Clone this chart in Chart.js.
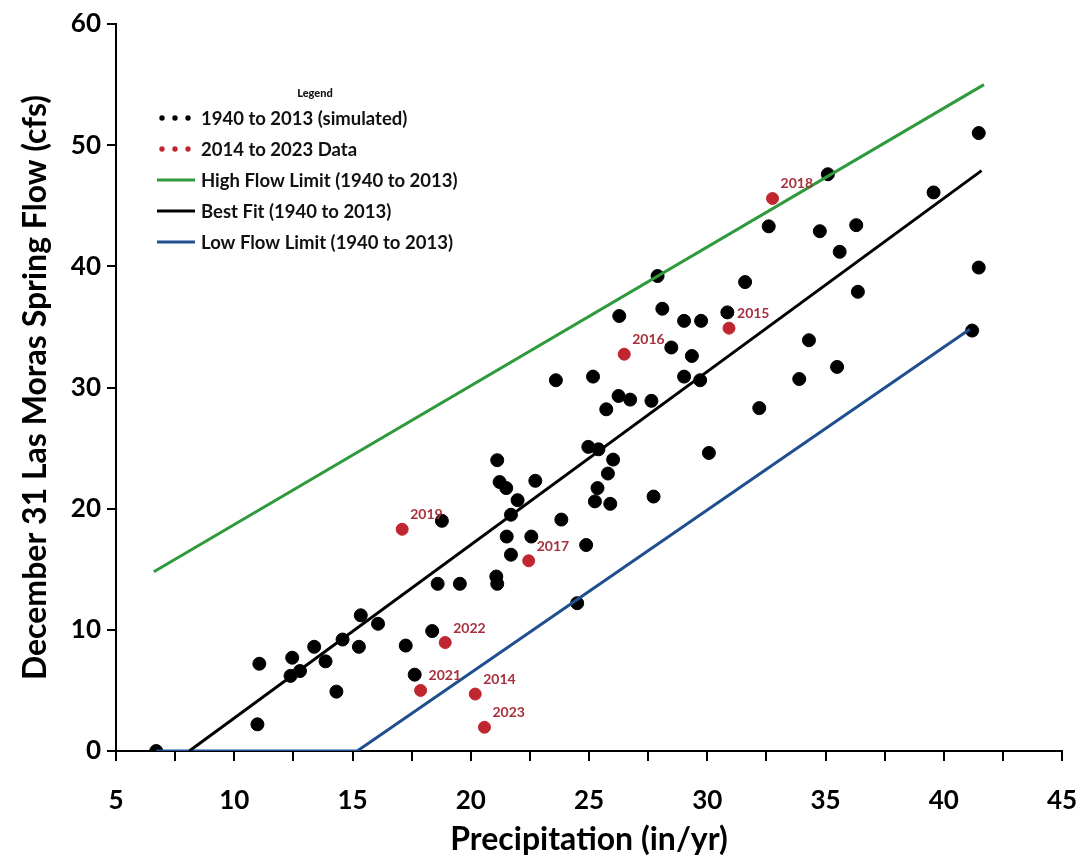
<!DOCTYPE html>
<html>
<head>
<meta charset="utf-8">
<script src="https://cdn.jsdelivr.net/npm/chart.js@4.4.1/dist/chart.umd.min.js"></script>
<style>
  html, body { margin: 0; padding: 0; background: #ffffff; }
  #wrap { width: 1085px; height: 857px; position: relative; }
</style>
</head>
<body>
<div id="wrap"><canvas id="c" width="1085" height="857"></canvas></div>
<script>
// ---- Data ----
const simX = [6.7, 11.06, 10.98, 12.45, 12.38, 12.78, 13.38, 13.86, 14.58, 14.32,
  15.35, 15.27, 16.08, 17.25, 17.63, 18.37, 18.6, 19.54, 21.08, 21.12,
  21.7, 21.12, 21.22, 21.5, 22.73, 21.98, 21.7, 18.78, 21.52, 22.56,
  23.83, 24.88, 24.97, 25.4, 26.02, 25.8, 25.36, 25.25, 25.9, 27.73,
  24.5, 27.9, 31.6, 26.28, 28.1, 29.02, 29.74, 30.85, 36.37, 28.48,
  29.35, 34.3, 35.49, 33.89, 23.6, 25.17, 29.02, 29.7, 26.25, 26.74,
  27.64, 25.73, 32.2, 30.07, 41.48, 35.1, 39.57, 32.6, 34.76, 36.3,
  35.6, 41.48, 41.2];
const simY = [0, 7.2, 2.2, 7.7, 6.2, 6.6, 8.6, 7.4, 9.2, 4.9,
  11.2, 8.6, 10.5, 8.7, 6.3, 9.9, 13.8, 13.8, 14.4, 13.8,
  16.2, 24.0, 22.2, 21.7, 22.3, 20.7, 19.5, 19.0, 17.7, 17.7,
  19.1, 17.0, 25.1, 24.9, 24.05, 22.9, 21.7, 20.6, 20.4, 21.0,
  12.2, 39.2, 38.7, 35.9, 36.5, 35.5, 35.5, 36.2, 37.9, 33.3,
  32.6, 33.9, 31.7, 30.7, 30.6, 30.9, 30.9, 30.6, 29.3, 29.0,
  28.9, 28.2, 28.3, 24.6, 51.0, 47.6, 46.1, 43.3, 42.9, 43.4,
  41.2, 39.9, 34.7];

const obsYears = ['2014', '2015', '2016', '2017', '2018', '2019', '2021', '2022', '2023'];
const obsX = [20.19, 30.92, 26.49, 22.45, 32.76, 17.1, 17.88, 18.92, 20.58];
const obsY = [4.7, 34.9, 32.75, 15.7, 45.6, 18.3, 5.0, 8.95, 1.96];

const highX = [6.6, 41.7];
const highY = [14.8, 55.0];
const fitX = [8.1, 41.6];
const fitY = [0, 47.9];
const lowX = [6.7, 15.2, 41.1];
const lowY = [0, 0, 34.8];

const xTickLabels = [5, 10, 15, 20, 25, 30, 35, 40, 45];
const yTickLabels = [0, 10, 20, 30, 40, 50, 60];

const seriesNames = ['1940 to 2013 (simulated)', '2014 to 2023 Data',
  'High Flow Limit (1940 to 2013)', 'Best Fit (1940 to 2013)', 'Low Flow Limit (1940 to 2013)'];

const toPts = (xs, ys) => xs.map((x, i) => ({ x: x, y: ys[i] }));

const FONT = 'Lato, "Open Sans", "DejaVu Sans", sans-serif';
const GREEN = '#2f9a3c';
const BLUE = '#1f4f8f';
const RED = '#c0262f';
const LABELRED = '#a8303c';

// ---- custom legend + point labels ----
const decorPlugin = {
  id: 'decor',
  afterDatasetsDraw(chart) {
    const ctx = chart.ctx;
    ctx.save();
    // red point labels
    const meta = chart.getDatasetMeta(1);
    ctx.fillStyle = LABELRED;
    ctx.font = 'bold 14px ' + FONT;
    ctx.textAlign = 'left';
    ctx.textBaseline = 'alphabetic';
    meta.data.forEach((p, i) => {
      ctx.fillText(obsYears[i], p.x + 8, p.y - 10);
    });

    // legend
    ctx.fillStyle = '#111';
    ctx.font = '900 11px ' + FONT;
    ctx.textAlign = 'center';
    ctx.textBaseline = 'middle';
    ctx.fillText('Legend', 315, 93);

    const order = [3, 1, 0, 2, 4]; // dataset indices in legend order
    const rowY = [118, 149, 180, 211, 242];
    ctx.font = 'bold 18.5px ' + FONT;
    ctx.textAlign = 'left';
    order.forEach((di, k) => {
      const ds = chart.data.datasets[di];
      const y = rowY[k];
      if (ds.type === 'scatter') {
        ctx.fillStyle = ds.backgroundColor;
        [162, 175, 188].forEach(cx => {
          ctx.beginPath(); ctx.arc(cx, y, 2.7, 0, Math.PI * 2); ctx.fill();
        });
      } else {
        ctx.strokeStyle = ds.borderColor;
        ctx.lineWidth = 3;
        ctx.beginPath(); ctx.moveTo(157, y); ctx.lineTo(195, y); ctx.stroke();
      }
      ctx.fillStyle = '#111';
      ctx.fillText(ds.label, 201, y + 1);
    });
    ctx.restore();
  }
};

new Chart(document.getElementById('c'), {
  data: {
    datasets: [
      { type: 'line', label: seriesNames[2], data: toPts(highX, highY), borderColor: GREEN, borderWidth: 3, pointRadius: 0, fill: false, order: 0 },
      { type: 'scatter', label: seriesNames[1], data: toPts(obsX, obsY), backgroundColor: RED, borderColor: RED, pointRadius: 6, order: 1 },
      { type: 'line', label: seriesNames[3], data: toPts(fitX, fitY), borderColor: '#000000', borderWidth: 3, pointRadius: 0, fill: false, order: 0 },
      { type: 'scatter', label: seriesNames[0], data: toPts(simX, simY), backgroundColor: '#000000', borderColor: '#000000', pointRadius: 6.5, order: 2 },
      { type: 'line', label: seriesNames[4], data: toPts(lowX, lowY), borderColor: BLUE, borderWidth: 3, pointRadius: 0, fill: false, order: 0 }
    ]
  },
  options: {
    responsive: false,
    animation: false,
    layout: { padding: { left: 0, top: 24, right: 23, bottom: 0 } },
    plugins: { legend: { display: false }, tooltip: { enabled: false } },
    scales: {
      x: {
        type: 'linear', min: 5, max: 45,
        border: { display: true, color: '#000', width: 2 },
        grid: { drawOnChartArea: false, drawTicks: true, tickLength: 10, color: '#000', lineWidth: 2 },
        ticks: {
          stepSize: 2.5, autoSkip: false, maxRotation: 0, padding: 24, color: '#000',
          font: { family: FONT, size: 26, weight: 'bold' },
          callback: v => xTickLabels.includes(v) ? String(v) : ''
        },
        title: { display: true, text: 'Precipitation (in/yr)', color: '#000', padding: { top: 0, bottom: -2 },
          font: { family: FONT, size: 32, weight: 'bold' } },
        afterFit: s => { s.height = 106; s.paddingLeft = 0; s.paddingRight = 0; }
      },
      y: {
        type: 'linear', min: 0, max: 60,
        border: { display: true, color: '#000', width: 2 },
        grid: { drawOnChartArea: false, drawTicks: true, tickLength: 9, color: '#000', lineWidth: 2 },
        ticks: {
          stepSize: 10, padding: 6, color: '#000',
          font: { family: FONT, size: 26, weight: 'bold' },
          callback: v => yTickLabels.includes(v) ? String(v) : ''
        },
        title: { display: true, text: 'December 31 Las Moras Spring Flow (cfs)', color: '#000', padding: { top: 16, bottom: 0 },
          font: { family: FONT, size: 32, weight: 'bold' } },
        afterFit: s => { s.width = 116; }
      }
    }
  },
  plugins: [decorPlugin]
});
</script>
</body>
</html>
